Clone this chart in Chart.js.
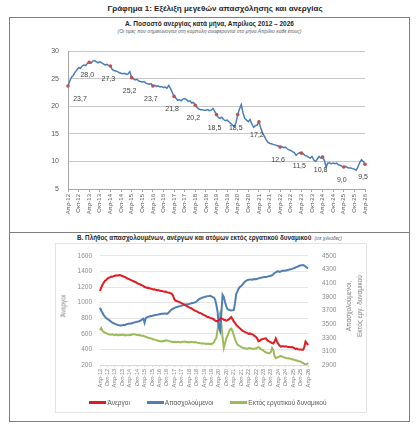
<!DOCTYPE html>
<html>
<head>
<meta charset="utf-8">
<script src="https://cdn.jsdelivr.net/npm/chart.js@4.4.1/dist/chart.umd.min.js"></script>
<style>
  body { margin:0; width:419px; height:430px; background:#fff; position:relative; overflow:hidden;
         font-family:"Liberation Sans", Arial, sans-serif; color:#262626; }
  .box { position:absolute; box-sizing:border-box; border:1px solid #7f7f7f; }
  .txt { position:absolute; white-space:nowrap; text-align:center; }
  canvas { position:absolute; }
  .rot { position:absolute; transform:translate(-50%,-50%) rotate(-90deg); white-space:nowrap;
         text-align:center; font-size:6.5px; color:#7f7f7f; line-height:11px; }
  #legendB { position:absolute; left:52px; width:312px; top:399px; display:flex; justify-content:center;
             gap:17px; font-size:6.5px; color:#595959; }
  #legendB span.item { display:flex; align-items:center; }
  #legendB span.ln { display:inline-block; width:17px; height:2.5px; margin-right:1px; }
</style>
</head>
<body>

<div class="txt" style="left:0;width:430px;top:4px;font-size:8px;font-weight:bold;">Γράφημα 1: Εξέλιξη μεγεθών απασχόλησης και ανεργίας</div>

<div class="box" style="left:9px;top:17px;width:401px;height:216px;"></div>
<div class="box" style="left:9px;top:232px;width:401px;height:190px;"></div>

<div class="txt" style="left:9px;width:401px;top:20px;font-size:6.5px;font-weight:bold;">Α. Ποσοστό ανεργίας κατά μήνα, Απρίλιος 2012 – 2026</div>
<div class="txt" style="left:9px;width:401px;top:28px;font-size:5px;font-style:italic;color:#595959;">(Οι τιμές που σημειώνονται στη καμπύλη αναφέρονται στο μήνα Απρίλιο κάθε έτους)</div>
<canvas id="chartA" width="399" height="190" style="left:10px;top:38px;"></canvas>

<div class="txt" style="left:9px;width:401px;top:234px;font-size:6.3px;font-weight:bold;">Β. Πλήθος απασχολουμένων, ανέργων και ατόμων εκτός εργατικού δυναμικού <span style="font-weight:normal;font-style:italic;font-size:5px;color:#595959;">&nbsp;(σε χιλιάδες)</span></div>
<div class="box" style="left:55px;top:243px;width:312px;height:170px;border-color:#e3e3e3;"></div>
<canvas id="chartB" width="310" height="169" style="left:56px;top:244px;"></canvas>
<div class="rot" style="left:63px;top:306px;">Άνεργοι</div>
<div class="rot" style="left:354px;top:306px;">Απασχολούμενοι,<br>Εκτός εργ. δυναμικού</div>
<div id="legendB">
  <span class="item"><span class="ln" style="background:#e01b22"></span>Άνεργοι</span>
  <span class="item"><span class="ln" style="background:#4f7fb5"></span>Απασχολούμενοι</span>
  <span class="item"><span class="ln" style="background:#9bbb59"></span>Εκτός εργατικού δυναμικού</span>
</div>

<script>
// Ετικέτες άξονα x (ανά εξάμηνο)
const tickLabels = ['Απρ-12','Οκτ-12','Απρ-13','Οκτ-13','Απρ-14','Οκτ-14','Απρ-15','Οκτ-15','Απρ-16','Οκτ-16',
  'Απρ-17','Οκτ-17','Απρ-18','Οκτ-18','Απρ-19','Οκτ-19','Απρ-20','Οκτ-20','Απρ-21','Οκτ-21','Απρ-22','Οκτ-22',
  'Απρ-23','Οκτ-23','Απρ-24','Οκτ-24','Απρ-25','Οκτ-25','Απρ-26'];

// Μήνες Απρ 2012 - Απρ 2026
const monthNames = ['Ιαν','Φεβ','Μαρ','Απρ','Μαϊ','Ιουν','Ιουλ','Αυγ','Σεπ','Οκτ','Νοε','Δεκ'];
const months = [];
for (let m = 0; m <= 168; m++) {
  const k = m + 3;
  months.push(monthNames[k % 12] + '-' + (12 + Math.floor(k / 12)));
}

// Ποσοστό ανεργίας (%)
const unemploymentRate = [
  23.7, 24.6, 25.3, 25.6, 26.2, 26.6, 27.0, 26.9, 27.3, 27.5, 27.4, 27.8,
  28.0, 27.8, 28.2, 28.3, 28.1, 27.9, 28.1, 27.9, 27.7, 27.5, 27.6, 27.4,
  27.3, 26.7, 26.5, 26.4, 26.3, 26.1, 26.0, 25.9, 26.0, 25.8, 25.9, 26.3,
  25.2, 25.0, 24.8, 24.9, 24.6, 24.5, 24.4, 24.5, 24.2, 24.1, 24.0, 24.1,
  23.7, 23.8, 23.6, 23.7, 23.5, 23.6, 23.4, 23.5, 23.3, 23.8, 23.2, 22.5,
  21.8, 21.5, 21.1, 21.2, 21.0, 21.3, 21.4, 21.2, 20.9, 21.0, 20.6, 20.7,
  20.2, 19.8, 19.5, 19.4, 19.4, 19.3, 19.3, 19.4, 19.2, 19.3, 19.6, 19.1,
  18.5, 18.0, 17.8, 18.0, 17.6, 17.4, 17.5, 17.2, 16.9, 16.6, 16.3, 17.0,
  18.5, 19.5, 20.3, 18.8, 17.8, 17.5, 17.2, 17.6, 16.8, 16.2, 16.5, 16.6,
  17.2, 16.1, 15.2, 14.6, 14.0, 13.5, 13.3, 13.2, 13.1, 13.0, 12.9, 12.8,
  12.6, 12.7, 12.5, 12.6, 12.3, 12.1, 12.0, 11.8, 11.6, 11.1, 11.4, 11.6,
  11.5, 11.4, 11.1, 11.0, 10.8, 10.6, 10.9, 10.3, 10.0, 10.4, 10.9, 10.6,
  10.8, 10.2, 9.0, 9.7, 9.7, 9.6, 9.7, 9.6, 9.7, 9.4, 9.3, 9.1,
  9.0, 9.1, 8.9, 8.8, 8.8, 8.7, 8.6, 8.4, 9.0, 9.8, 10.3, 10.0,
  9.5
];

// Άνεργοι (χιλιάδες, αριστερός άξονας)
const unemployed = [
  1150, 1195, 1230, 1255, 1280, 1290, 1310, 1318, 1325, 1335, 1332, 1340,
  1345, 1350, 1347, 1352, 1355, 1348, 1342, 1335, 1330, 1322, 1310, 1305,
  1298, 1290, 1282, 1275, 1268, 1262, 1250, 1242, 1238, 1230, 1222, 1215,
  1200, 1198, 1190, 1192, 1185, 1180, 1175, 1170, 1172, 1165, 1160, 1162,
  1155, 1150, 1149, 1145, 1140, 1142, 1135, 1130, 1128, 1121, 1115, 1090,
  1045, 1025, 1020, 1015, 1010, 1002, 990, 985, 978, 965, 958, 950,
  940, 932, 925, 915, 905, 895, 890, 880, 870, 868, 858, 850,
  840, 835, 825, 815, 812, 805, 800, 795, 785, 770, 765, 760,
  775, 790, 800, 790, 780, 778, 770, 775, 785, 800, 815, 790,
  760, 740, 715, 700, 685, 670, 655, 640, 632, 625, 615, 610,
  600, 605, 598, 595, 585, 570, 560, 540, 505, 510, 525, 530,
  535, 540, 542, 520, 505, 500, 490, 480, 475, 500, 540, 500,
  470, 450, 435, 440, 442, 438, 440, 436, 430, 432, 428, 430,
  425, 418, 405, 410, 402, 400, 398, 395, 395, 430, 500, 480,
  455
];

// Απασχολούμενοι (χιλιάδες, δεξιός άξονας)
const employed = [
  3740, 3700, 3665, 3632, 3610, 3590, 3575, 3562, 3550, 3535, 3520, 3512,
  3506, 3495, 3490, 3485, 3480, 3478, 3482, 3490, 3485, 3495, 3500, 3506,
  3510, 3505, 3515, 3520, 3525, 3530, 3535, 3539, 3545, 3555, 3570, 3580,
  3520, 3590, 3600, 3609, 3612, 3618, 3620, 3625, 3630, 3632, 3638, 3640,
  3645, 3648, 3650, 3652, 3655, 3656, 3650, 3660, 3680, 3700, 3715, 3725,
  3735, 3745, 3750, 3755, 3760, 3765, 3771, 3775, 3780, 3785, 3790, 3792,
  3795, 3800, 3805, 3810, 3815, 3819, 3830, 3850, 3865, 3875, 3885, 3890,
  3895, 3900, 3905, 3910, 3912, 3915, 3905, 3895, 3889, 3860, 3780, 3680,
  3450, 3400, 3650, 3930, 3900, 3820, 3760, 3720, 3710, 3705, 3700, 3702,
  3705, 3800, 3940, 3981, 4020, 4045, 4060, 4075, 4100, 4120, 4135, 4145,
  4150, 4152, 4155, 4150, 4158, 4160, 4159, 4165, 4170, 4175, 4180, 4185,
  4188, 4190, 4191, 4195, 4200, 4205, 4210, 4215, 4230, 4250, 4260, 4271,
  4275, 4265, 4270, 4280, 4285, 4283, 4285, 4290, 4295, 4300, 4305, 4310,
  4317, 4320, 4330, 4340, 4345, 4355, 4360, 4363, 4365, 4358, 4345, 4330,
  4317
];

// Εκτός εργατικού δυναμικού (χιλιάδες, δεξιός άξονας)
const outOfLabourForce = [
  3410, 3440, 3400, 3385, 3375, 3365, 3360, 3352, 3348, 3345, 3350, 3342,
  3338, 3345, 3340, 3335, 3342, 3338, 3345, 3340, 3335, 3340, 3338, 3338,
  3345, 3342, 3348, 3350, 3352, 3345, 3340, 3335, 3338, 3332, 3330, 3329,
  3320, 3315, 3306, 3300, 3295, 3290, 3285, 3273, 3275, 3268, 3262, 3255,
  3250, 3248, 3245, 3255, 3250, 3262, 3259, 3255, 3250, 3245, 3240, 3238,
  3242, 3238, 3236, 3240, 3235, 3230, 3238, 3240, 3245, 3240, 3235, 3238,
  3232, 3236, 3240, 3235, 3230, 3236, 3228, 3225, 3222, 3218, 3215, 3220,
  3215, 3212, 3210, 3215, 3208, 3212, 3210, 3215, 3230, 3270, 3300, 3420,
  3586, 3655, 3500, 3300, 3152, 3220, 3290, 3329, 3380, 3420, 3432, 3400,
  3340, 3282, 3240, 3200, 3190, 3175, 3165, 3155, 3150, 3145, 3142, 3140,
  3145, 3150, 3142, 3140, 3138, 3142, 3142, 3150, 3165, 3150, 3130, 3120,
  3110, 3095, 3085, 3080, 3075, 3072, 3090, 3150, 3120, 3030, 3000, 3010,
  3015, 3026, 3030, 3025, 3015, 3010, 3005, 3000, 2998, 2994, 2990, 2985,
  2980, 2975, 2970, 2965, 2960, 2956, 2950, 2940, 2930, 2915, 2905, 2912,
  2932
];

Chart.defaults.font.family = '"Liberation Sans", Arial, sans-serif';
Chart.defaults.animation = false;

function xTick(value, index) {
  return index % 6 === 0 ? tickLabels[index / 6] : '';
}

// Αριθμοί χωρίς διαχωριστικό χιλιάδων
function plainTick(value) {
  return String(value);
}

// Ετικέτες τιμών για τον Απρίλιο κάθε έτους
const aprilLabels = {
  id: 'aprilLabels',
  afterDatasetsDraw(chart) {
    const c = chart.ctx;
    const meta = chart.getDatasetMeta(0);
    c.save();
    c.font = '7px "Liberation Sans", Arial, sans-serif';
    c.fillStyle = '#404040';
    c.textAlign = 'center';
    c.textBaseline = 'middle';
    meta.data.forEach((pt, i) => {
      if (i % 12 !== 0) return;
      const txt = unemploymentRate[i].toFixed(1).replace('.', ',');
      const dx = i === 0 ? 12 : -2;
      c.fillText(txt, pt.x + dx, pt.y + 13);
    });
    c.restore();
  }
};

// Γράφημα Α
new Chart(document.getElementById('chartA').getContext('2d'), {
  type: 'line',
  data: {
    labels: months,
    datasets: [{
      data: unemploymentRate,
      borderColor: '#4a7ebb',
      borderWidth: 1.5,
      tension: 0,
      pointRadius: c => (c.index % 12 === 0 ? 1.8 : 0),
      pointBackgroundColor: '#c0504d',
      pointBorderWidth: 0
    }]
  },
  options: {
    responsive: false,
    layout: { padding: { top: 6, right: 44, left: 0, bottom: 0 } },
    plugins: { legend: { display: false }, tooltip: { enabled: false } },
    scales: {
      x: {
        grid: { drawOnChartArea: false, tickLength: 3, color: c => (c.index % 6 === 0 ? '#a6a6a6' : 'transparent') },
        border: { color: '#a6a6a6' },
        ticks: { autoSkip: false, minRotation: 90, maxRotation: 90, padding: 2, font: { size: 6 }, color: '#595959', callback: xTick },
        afterFit: s => { s.height = 39; }
      },
      y: {
        min: 5, max: 30,
        ticks: { stepSize: 5, font: { size: 7 }, color: '#595959', padding: 9, callback: plainTick },
        grid: { color: '#c8c8c8', drawTicks: false },
        border: { color: '#a6a6a6' },
        afterFit: s => { s.width = 58; }
      }
    }
  },
  plugins: [aprilLabels]
});

// Γράφημα Β
new Chart(document.getElementById('chartB').getContext('2d'), {
  type: 'line',
  data: {
    labels: months,
    datasets: [
      { label: 'Άνεργοι', data: unemployed, yAxisID: 'y', borderColor: '#e01b22', borderWidth: 2, pointRadius: 0, tension: 0 },
      { label: 'Απασχολούμενοι', data: employed, yAxisID: 'y2', borderColor: '#4f7fb5', borderWidth: 2, pointRadius: 0, tension: 0 },
      { label: 'Εκτός εργατικού δυναμικού', data: outOfLabourForce, yAxisID: 'y2', borderColor: '#9bbb59', borderWidth: 2, pointRadius: 0, tension: 0 }
    ]
  },
  options: {
    responsive: false,
    layout: { padding: { top: 5, right: 0, left: 0, bottom: 0 } },
    plugins: { legend: { display: false }, tooltip: { enabled: false } },
    scales: {
      x: {
        grid: { drawOnChartArea: false, tickLength: 2, color: c => (c.index % 6 === 0 ? '#d9d9d9' : 'transparent') },
        border: { color: '#d9d9d9' },
        ticks: { autoSkip: false, minRotation: 90, maxRotation: 90, padding: 2, font: { size: 5.5 }, color: '#7f7f7f', callback: xTick },
        afterFit: s => { s.height = 48; }
      },
      y: {
        position: 'left',
        min: 200, max: 1600,
        ticks: { stepSize: 200, font: { size: 6.5 }, color: '#8c8c8c', padding: 8, callback: plainTick },
        grid: { color: '#e6e6e6', drawTicks: false },
        border: { display: false },
        afterFit: s => { s.width = 44; }
      },
      y2: {
        position: 'right',
        min: 2900, max: 4500,
        ticks: { stepSize: 200, font: { size: 6.5 }, color: '#8c8c8c', padding: 6, callback: plainTick },
        grid: { display: false },
        border: { display: false },
        afterFit: s => { s.width = 58; }
      }
    }
  }
});
</script>
</body>
</html>
